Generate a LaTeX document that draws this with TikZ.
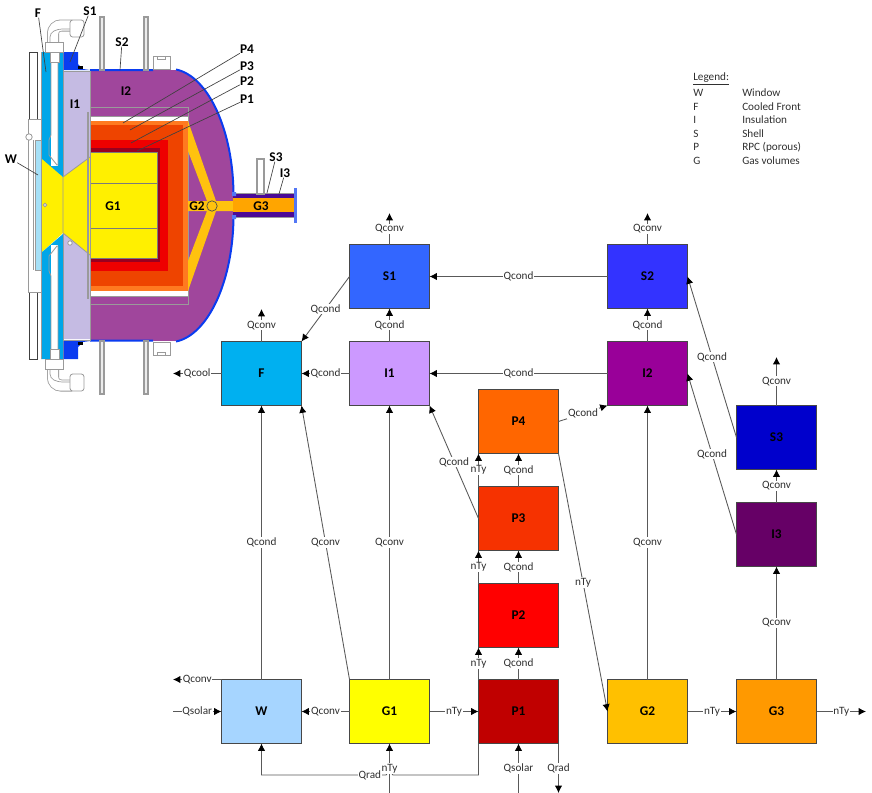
\documentclass[tikz,border=0pt]{standalone}
\usepackage{fontspec}
\setmainfont{Carlito}
\usetikzlibrary{arrows.meta}
\definecolor{edgec}{HTML}{595959}
\definecolor{txt}{HTML}{303030}
\definecolor{cpurple}{HTML}{A0469C}
\definecolor{cblue}{HTML}{0A3CF0}
\definecolor{cfront}{HTML}{00A6E8}
\definecolor{clav}{HTML}{C5BBE3}
\definecolor{cgas}{HTML}{FFC20E}
\definecolor{cyel}{HTML}{FFF000}
\definecolor{cgray}{HTML}{9A9A9A}
\definecolor{lay4}{HTML}{FF7A20}
\definecolor{lay3}{HTML}{EE4400}
\definecolor{lay2}{HTML}{EE0000}
\definecolor{lay1}{HTML}{990020}
\definecolor{tube}{HTML}{FFA500}
\definecolor{tubewall}{HTML}{4B0A96}
\tikzset{
  x=0.75pt,y=-0.75pt,
  box/.style={draw=edgec!80!black,line width=0.7pt,minimum width=60pt,minimum height=48pt,inner sep=0pt,outer sep=0pt,font=\fontsize{10}{11}\selectfont\bfseries,text=black},
  lab/.style={fill=white,inner sep=0.6pt,font=\fontsize{8.4}{10}\selectfont,text=txt},
  flow/.style={draw=edgec,line width=0.65pt,-{Latex[length=5.5pt,width=5.5pt,color=black]}},
  partlab/.style={inner sep=0pt,font=\fontsize{10}{11}\selectfont\bfseries,text=black},
  leader/.style={draw=black!75,line width=0.5pt},
  legend/.style={anchor=west,inner sep=0pt,font=\fontsize{8.4}{10}\selectfont,text=txt},
  outl/.style={draw=cgray,line width=0.6pt},
}
\newcommand{\halfcut}{%
  % cooled front
  \fill[cfront] (41,52) -- (63,52) -- (63,177) -- (41,158) -- cycle;
  \draw[outl] (41,52) -- (41,158) (63,52) -- (63,177);
  \fill[white] (51,52) rectangle (58,166);
  \draw[outl] (51,60) -- (51,135) -- (49,140) -- (49,155) -- (57,165) -- (58,165) -- (58,52);
  % shell flange
  \fill[cblue] (63.5,52) -- (78,52) -- (78,64) -- (83,69) -- (90,70) -- (63.5,70) -- cycle;
  \fill[black] (78,66) rectangle (83,69);
  % left plate
  \draw[draw=black!75,fill=white,line width=0.6pt] (29,52) rectangle (37,119);
  \draw[outl] (28,119) -- (28,150) (28,119) -- (41,119);
  % posts
  \draw[outl,fill=white!92!black,line width=0.9pt] (100,17) rectangle (104,70);
  \draw[outl,fill=white!92!black,line width=0.9pt] (144,17) rectangle (148,70);
  \draw[outl,fill=white] (153,56) rectangle (170,69);
  \draw[outl,fill=white] (157,56) rectangle (165,59);
  % cooling-line elbow
  \draw[cgray,line width=9pt,rounded corners=6pt] (53,44) -- (53,25.5) -- (72,25.5);
  \draw[white,line width=7.8pt,rounded corners=6pt] (53,45) -- (53,25.5) -- (73,25.5);
  \draw[cgray,line width=0.5pt,rounded corners=3pt] (50,44) -- (50,33) -- (58,29) -- (70,29);
  \draw[outl,fill=white,rounded corners=2pt] (70,20) rectangle (84,37);
  \draw[outl,fill=white] (45,42) rectangle (63,52);
  \draw[outl,fill=white] (50,52) rectangle (59,62);
}
\begin{document}
\begin{tikzpicture}
\path[use as bounding box] (0,0) rectangle (872,793);
%% ---------- cut-away ----------
% insulation I2 with shell
\fill[cpurple] (90,70) -- (175,70) .. controls (208,76) and (233,130) .. (233,196) -- (233,215) .. controls (233,281) and (208,335) .. (175,341) -- (90,340) -- cycle;
\draw[cblue,line width=1.5pt] (90,70) -- (153,70) (176,69.5) .. controls (208,76) and (233.5,130) .. (233.5,196)
      (233.5,215) .. controls (233.5,281) and (208,335) .. (176,341.5) (90,340.5) -- (153,340.5);
% inner cavity
\draw[outl,line width=0.7pt] (90,107) -- (188,107) -- (188,304) -- (90,304);
\fill[white] (90,116) rectangle (188,121);
\fill[white] (90,291) rectangle (188,296);
\draw[outl] (90,116) -- (188,116) (90,296) -- (188,296);
\fill[lay4] (90,121) rectangle (188,291);
\fill[lay3] (90,125) rectangle (183,286);
\fill[lay2] (90,140) rectangle (168,271);
\fill[lay1] (90,148) rectangle (160,262);
\fill[cyel] (90,152) rectangle (157,258);
\draw[cgray!80!black,line width=0.7pt] (90,152) rectangle (157,258) (90,183) -- (157,183) (90,228) -- (157,228);
% G2 volume
\fill[cgas] (188,121) -- (216,201) -- (233,201) -- (233,211) -- (216,211) -- (188,291) -- (188,261) -- (207,211) -- (188,211) -- (188,201) -- (207,201) -- (188,151) -- cycle;
% hourglass gas volume
\fill[cyel] (42,158) -- (63,177) -- (90,157) -- (90,255) -- (63,233) -- (42,252) -- cycle;
% insulation I1
\fill[clav] (63,71) -- (90,71) -- (90,157) -- (63,177) -- cycle;
\fill[clav] (63,233) -- (90,255) -- (90,339) -- (63,339) -- cycle;
\draw[outl] (63,71) -- (90,71) -- (90,340) -- (63,340);
\draw[outl] (63,177) -- (63,233) (90,157) -- (63,177) (90,255) -- (63,233);
\draw[outl,line width=1pt] (88,112) -- (88,299);
\halfcut
\begin{scope}[shift={(0,411)},yscale=-1]
\halfcut
\end{scope}
% window
\draw[outl,fill=cfront!35!white] (35,140) rectangle (41,270);
\draw[outl] (28,119) -- (28,290) (33,140) -- (33,270);
\draw[outl,fill=white] (29,137) circle[radius=3.2];
\draw[outl,fill=white] (45,205) circle[radius=1.8];
\draw[outl,fill=white] (70,243) circle[radius=2.2];
% G3 tube
\fill[tubewall] (233,194) rectangle (294,217);
\fill[tube] (233,198) rectangle (294,212);
\draw[outl] (233,193.5) -- (294,193.5) (233,217.5) -- (294,217.5);
\fill[cblue!70!white] (293.5,188) rectangle (296.5,223);
\fill[cblue!70!white] (232,192) rectangle (236,196) (232,215) rectangle (236,219);
\draw[outl,fill=white,line width=0.9pt] (257,159) rectangle (264,194);
\draw[draw=black!70,fill=cgas,line width=0.5pt] (212,206) circle[radius=5.2];
% part labels
\node[partlab] (lF) at (38,13) {F};
\node[partlab] (lS1) at (90,11) {S1};
\node[partlab] (lS2) at (122,42) {S2};
\node[partlab] (lI1) at (75,104) {I1};
\node[partlab] (lI2) at (126,91) {I2};
\node[partlab] (lG1) at (113,206) {G1};
\node[partlab] (lG2) at (197,206) {G2};
\node[partlab] (lG3) at (261,206) {G3};
\node[partlab] (lW) at (11,159) {W};
\node[partlab] (lP4) at (247,49) {P4};
\node[partlab] (lP3) at (247,66) {P3};
\node[partlab] (lP2) at (247,81) {P2};
\node[partlab] (lP1) at (247,99) {P1};
\node[partlab] (lS3) at (276,157) {S3};
\node[partlab] (lI3) at (285,173) {I3};
\coordinate (tF) at (46,72);
\coordinate (tS1) at (70,62);
\coordinate (tS2) at (120,70);
\coordinate (tW) at (38,175);
\coordinate (tP4) at (123,123);
\coordinate (tP3) at (130,130);
\coordinate (tP2) at (131,143);
\coordinate (tP1) at (137,151);
\coordinate (tS3) at (267,193);
\coordinate (tI3) at (279,194);
\draw[leader] (lF) -- (tF);
\draw[leader] (lS1) -- (tS1);
\draw[leader] (lS2) -- (tS2);
\draw[leader] (lW) -- (tW);
\draw[leader] (lP4) -- (tP4);
\draw[leader] (lP3) -- (tP3);
\draw[leader] (lP2) -- (tP2);
\draw[leader] (lP1) -- (tP1);
\draw[leader] (lS3) -- (tS3);
\draw[leader] (lI3) -- (tI3);
%% ---------- legend ----------
\node[legend] (leg) at (693,79) {\underline{Legend:}};
\node[legend] (k1) at (693,93) {W};    \node[legend] (v1) at (742,93) {Window};
\node[legend] (k2) at (693,107) {F};   \node[legend] (v2) at (742,107) {Cooled Front};
\node[legend] (k3) at (693,120) {I};   \node[legend] (v3) at (742,120) {Insulation};
\node[legend] (k4) at (693,134) {S};   \node[legend] (v4) at (742,134) {Shell};
\node[legend] (k5) at (693,147) {P};   \node[legend] (v5) at (742,147) {RPC (porous)};
\node[legend] (k6) at (693,161) {G};   \node[legend] (v6) at (742,161) {Gas volumes};
%% ---------- network ----------
\definecolor{nS1}{HTML}{3366FF}\definecolor{nS2}{HTML}{3333FF}
\definecolor{nF}{HTML}{00B0F0}\definecolor{nI1}{HTML}{CC99FF}
\definecolor{nI2}{HTML}{990099}\definecolor{nP4}{HTML}{FF6600}
\definecolor{nP3}{HTML}{F63200}\definecolor{nP2}{HTML}{FF0000}
\definecolor{nP1}{HTML}{C00000}\definecolor{nW}{HTML}{A6D5FF}
\definecolor{nG1}{HTML}{FFFF00}\definecolor{nG2}{HTML}{FFC000}
\definecolor{nG3}{HTML}{FF9900}\definecolor{nI3}{HTML}{660066}
\definecolor{nS3}{HTML}{0000CC}
\node[box,fill=nS1] (s1) at (389.5,276.5) {S1};
\node[box,fill=nS2] (s2) at (647.5,276.5) {S2};
\node[box,fill=nF] (f) at (261.5,373.5) {F};
\node[box,fill=nI1] (i1) at (389.5,373.5) {I1};
\node[box,fill=nI2] (i2) at (647.5,373.5) {I2};
\node[box,fill=nP4] (p4) at (518.5,421.5) {P4};
\node[box,fill=nP3] (p3) at (518.5,518.5) {P3};
\node[box,fill=nP2] (p2) at (518.5,615.5) {P2};
\node[box,fill=nP1] (p1) at (518.5,711.5) {P1};
\node[box,fill=nW] (w) at (261.5,711.5) {W};
\node[box,fill=nG1] (g1) at (389.5,711.5) {G1};
\node[box,fill=nG2] (g2) at (647.5,711.5) {G2};
\node[box,fill=nG3] (g3) at (776.5,711.5) {G3};
\node[box,fill=nI3] (i3) at (776.5,534.5) {I3};
\node[box,fill=nS3] (s3) at (776.5,437.5) {S3};
% free ends
\coordinate (e1) at (389.5,213);
\coordinate (e2) at (647.5,213);
\coordinate (e3) at (261.5,309);
\coordinate (e4) at (173,373.5);
\coordinate (e5) at (776.5,357);
\coordinate (e6) at (173,679.5);
\coordinate (e7) at (173,711.5);
\coordinate (e8) at (866,711.5);
\coordinate (e9) at (389.5,793);
\coordinate (e10) at (518.5,793);
\coordinate (e11) at (558.5,793);
\coordinate (qa) at (393,775);
\coordinate (qb) at (386,775);
\coordinate (qd) at (261.5,775);
\draw[flow] (s1.north) -- node[lab] {Qconv} (e1);
\draw[flow] (s2.north) -- node[lab] {Qconv} (e2);
\draw[flow] (s2.west) -- node[lab] {Qcond} (s1.east);
\draw[flow] (s1.west) -- node[lab] {Qcond} (f.north east);
\draw[flow] (f.north) -- node[lab] {Qconv} (e3);
\draw[flow] (f.west) -- node[lab] {Qcool} (e4);
\draw[flow] (i1.west) -- node[lab] {Qcond} (f.east);
\draw[flow] (i1.north) -- node[lab] {Qcond} (s1.south);
\draw[flow] (i2.west) -- node[lab] {Qcond} (i1.east);
\draw[flow] (i2.north) -- node[lab] {Qcond} (s2.south);
\draw[flow] (p4.east) -- node[lab] {Qcond} (i2.south west);
\draw[flow] (p3.west) -- node[lab] {Qcond} (i1.south east);
\draw[flow] (p3.north west) -- node[lab] {nTy} (p4.south west);
\draw[flow] (p3.north) -- node[lab] {Qcond} (p4.south);
\draw[flow] (p2.north west) -- node[lab] {nTy} (p3.south west);
\draw[flow] (p2.north) -- node[lab] {Qcond} (p3.south);
\draw[flow] (p1.north west) -- node[lab] {nTy} (p2.south west);
\draw[flow] (p1.north) -- node[lab] {Qcond} (p2.south);
\draw[flow] (p4.south east) -- node[lab] {nTy} (g2.west);
\draw[flow] (g2.north) -- node[lab] {Qconv} (i2.south);
\draw[flow] (g1.north) -- node[lab] {Qconv} (i1.south);
\draw[flow] (g1.north west) -- node[lab] {Qconv} (f.south east);
\draw[flow] (w.north) -- node[lab] {Qcond} (f.south);
\draw[flow] (g1.west) -- node[lab] {Qconv} (w.east);
\draw[flow] (w.north west) -- node[lab] {Qconv} (e6);
\draw[flow] (e7) -- node[lab] {Qsolar} (w.west);
\draw[flow] (g1.east) -- node[lab] {nTy} (p1.west);
\draw[flow] (g2.east) -- node[lab] {nTy} (g3.west);
\draw[flow] (g3.east) -- node[lab] {nTy} (e8);
\draw[flow] (g3.north) -- node[lab] {Qconv} (i3.south);
\draw[flow] (i3.north) -- node[lab] {Qconv} (s3.south);
\draw[flow] (s3.north) -- node[lab] {Qconv} (e5);
\draw[flow] (i3.west) -- node[lab] {Qcond} (i2.east);
\draw[flow] (s3.west) -- node[lab] {Qcond} (s2.east);
\draw[flow] (p1.south west) |- (qa) .. controls (392,772) and (387,772) .. (qb) -- node[lab,pos=.13] {Qrad} (qd) -- (w.south);
\draw[flow] (e9) -- node[lab,pos=.49] {nTy} (g1.south);
\draw[flow] (e10) -- node[lab] {Qsolar} (p1.south);
\draw[flow] (p1.south east) -- node[lab] {Qrad} (e11);
\end{tikzpicture}
\end{document}
